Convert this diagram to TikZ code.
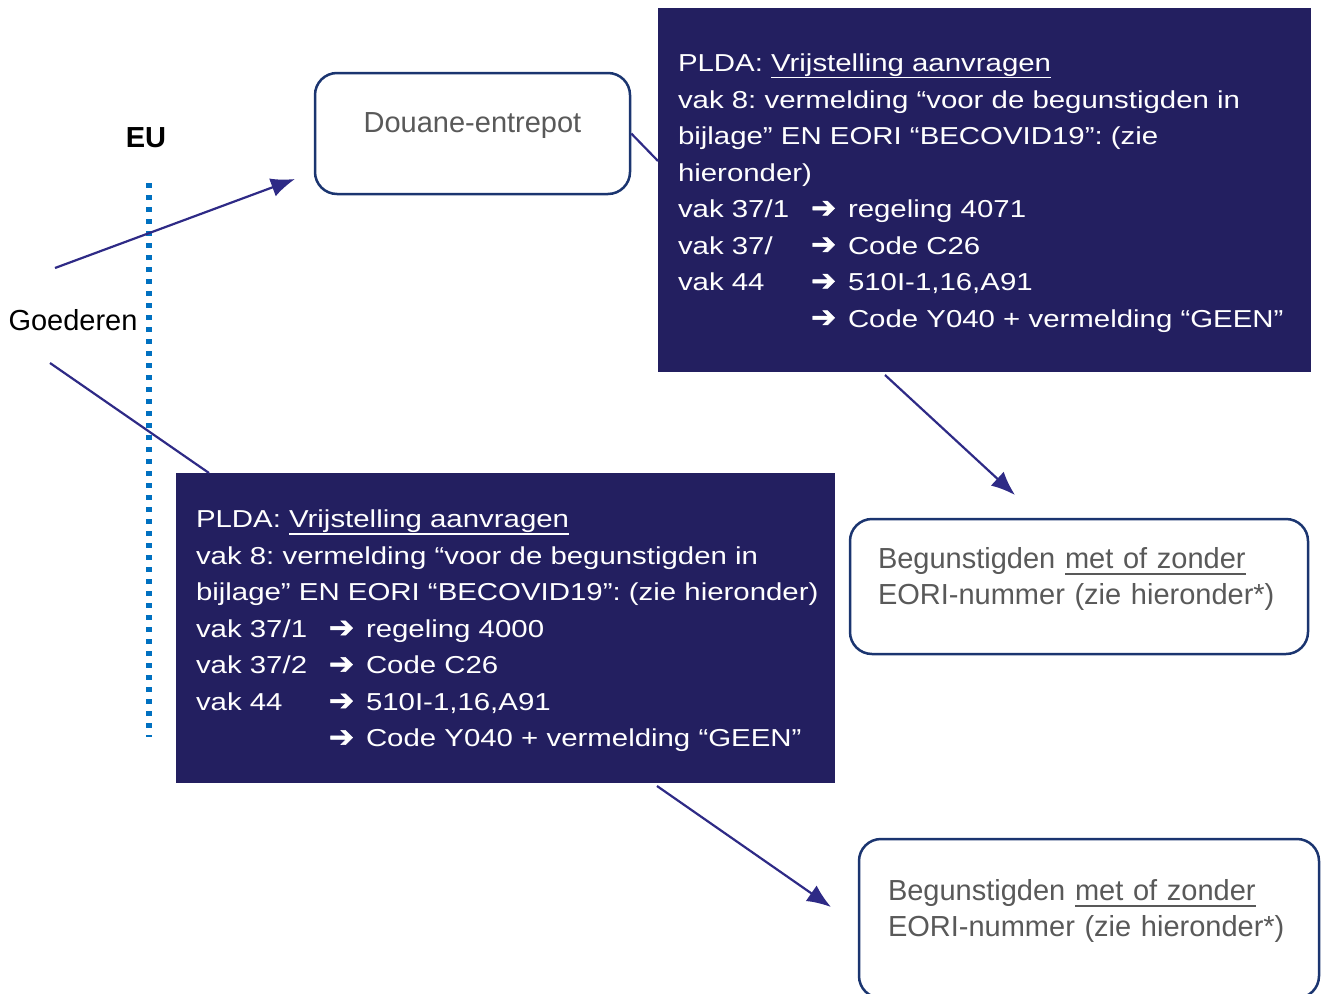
\documentclass[tikz,border=0pt]{standalone}
\usepackage{fontspec}
\setmainfont{Liberation Sans}
\newfontfamily\vakfont[FakeStretch=1.2]{Liberation Sans}
\newfontfamily\pijlfont[FakeBold=1.5]{DejaVu Sans}
\usetikzlibrary{arrows.meta}
\frenchspacing

\definecolor{pldanavy}{HTML}{231F60}
\definecolor{randblauw}{HTML}{1B3570}
\definecolor{pijlblauw}{HTML}{2E2A86}
\definecolor{grens}{HTML}{0070C0}
\definecolor{tekstgrijs}{HTML}{595959}

\newsavebox\strepbox
\newcommand{\onderstreep}[1]{\sbox\strepbox{#1}\rlap{\rule[-6.6pt]{\wd\strepbox}{1.6pt}}\usebox\strepbox}
\newcommand{\pijl}{{\pijlfont\fontsize{30}{30}\selectfont ➔}}
\newcommand{\vakregel}[2]{\makebox[133pt][l]{#1}\makebox[37pt][l]{\pijl}#2}
\newcommand{\onderruimte}{\rule[-22pt]{0pt}{22pt}}
\newcommand{\bovenruimte}{\rule{0pt}{24pt}}

\begin{document}
\begin{tikzpicture}[x=1pt, y=-1pt,
    pldabox/.style={rectangle, fill=pldanavy, text=white, inner sep=0pt,
      align=left, font=\vakfont\fontsize{24.5}{36.5}\selectfont},
    witbox/.style={rectangle, rounded corners=22pt, draw=randblauw,
      line width=2.5pt, fill=white, text=tekstgrijs, inner sep=0pt,
      font=\fontsize{29}{36}\selectfont},
    verbinding/.style={pijlblauw, line width=2.2pt},
    pijlpunt/.style={verbinding, -{Latex[length=24pt, width=19pt]}}]
\useasboundingbox (0,0) rectangle (1322,993);
\clip (0,0) rectangle (1322,993);

% EU grens
\node[font=\fontsize{29}{29}\selectfont\bfseries] (eu) at (146,138) {EU};
\draw[grens, line width=5.5pt, dash pattern=on 5pt off 7pt] (149,183) -- (149,737);

\node[font=\fontsize{29}{29}\selectfont] (goed) at (73,320) {Goederen};

% Douane-entrepot
\node[witbox, minimum width=315pt, minimum height=121pt] (douane) at (472.5,133.5)
{Douane-entrepot\onderruimte};

% PLDA boven
\node[pldabox, minimum width=653pt, minimum height=364pt, text width=613pt]
(pldaT) at (984.5,190)
{\bovenruimte PLDA: \onderstreep{Vrijstelling aanvragen}\\
vak 8: vermelding “voor de begunstigden in\\
\mbox{bijlage” EN EORI “BECOVID19”: (zie}\\
hieronder)\\
\vakregel{vak 37/1}{regeling 4071}\\
\vakregel{vak 37/}{Code C26}\\
\vakregel{vak 44}{510I-1,16,A91}\\
\vakregel{}{Code Y040 + vermelding “GEEN”}};

% PLDA onder
\node[pldabox, minimum width=659pt, minimum height=310pt, text width=619pt]
(pldaB) at (505.5,628)
{\bovenruimte PLDA: \onderstreep{Vrijstelling aanvragen}\\
vak 8: vermelding “voor de begunstigden in\\
\mbox{bijlage” EN EORI “BECOVID19”: (zie hieronder)}\\
\vakregel{vak 37/1}{regeling 4000}\\
\vakregel{vak 37/2}{Code C26}\\
\vakregel{vak 44}{510I-1,16,A91}\\
\vakregel{}{Code Y040 + vermelding “GEEN”}};

% Begunstigden
\node[witbox, align=left, minimum width=458pt, minimum height=135pt, text width=402pt]
(ben1) at (1079,586.5)
{Begunstigden \onderstreep{met of zonder}\\
EORI-nummer (zie hieronder*)\onderruimte};

\node[witbox, align=left, minimum width=460pt, minimum height=159pt, text width=402pt]
(ben2) at (1089,918.5)
{Begunstigden \onderstreep{met of zonder}\\
EORI-nummer (zie hieronder*)\onderruimte};

% verbindingen
\coordinate (gBoven) at (55,268);
\coordinate (douaneIn) at (295,179);
\coordinate (gOnder) at (50,363);
\coordinate (pldaBIn) at (209,473);
\coordinate (pldaTIn) at (658,161);
\coordinate (pldaTUit) at (885,375);
\coordinate (ben1In) at (1015,495);
\coordinate (pldaBUit) at (657,786);
\coordinate (ben2In) at (831,907);

\draw[pijlpunt] (gBoven) -- (douaneIn);
\draw[verbinding] (gOnder) -- (pldaBIn);
\draw[verbinding] (douane.east) -- (pldaTIn);
\draw[pijlpunt] (pldaTUit) -- (ben1In);
\draw[pijlpunt] (pldaBUit) -- (ben2In);
\end{tikzpicture}
\end{document}
